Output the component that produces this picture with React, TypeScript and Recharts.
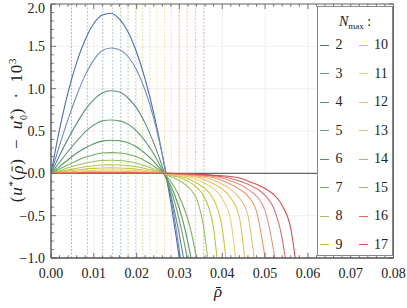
import { LineChart, Line, XAxis, YAxis, CartesianGrid, ReferenceLine } from 'recharts';

// x grid shared by all curves (rho bar)
const XS = [
  0, 0.002, 0.004, 0.006, 0.008, 0.01, 0.012, 0.014, 0.016, 0.018, 0.02, 0.022, 0.024, 0.026,
  0.027, 0.028, 0.029, 0.03, 0.031, 0.032, 0.033, 0.034,
  0.036, 0.038, 0.04, 0.042, 0.044, 0.046, 0.048, 0.05, 0.052, 0.054, 0.056, 0.058,
];

// (u*(rho) - u0*) * 10^3 per N_max; a curve ends one point past -1
const N2 = [0, 0.52, 0.96, 1.31, 1.58, 1.77, 1.87, 1.89, 1.82, 1.67, 1.43, 1.11, 0.71, 0.22, -0.06, -0.35, -0.67, -1.01, -1.37];
const N3 = [0, 0.33, 0.64, 0.92, 1.16, 1.34, 1.45, 1.48, 1.46, 1.38, 1.22, 0.98, 0.65, 0.22, -0.02, -0.28, -0.58, -0.92, -1.3];
const N4 = [0, 0.21, 0.41, 0.59, 0.75, 0.87, 0.95, 0.975, 0.96, 0.89, 0.77, 0.59, 0.36, 0.08, -0.08, -0.26, -0.48, -0.73, -1.02, -1.35];
const N5 = [0, 0.13, 0.26, 0.38, 0.49, 0.57, 0.62, 0.63, 0.62, 0.58, 0.5, 0.38, 0.23, 0.04, -0.07, -0.2, -0.36, -0.56, -0.79, -1.06, -1.36];
const N6 = [0, 0.08, 0.16, 0.24, 0.3, 0.35, 0.38, 0.39, 0.385, 0.36, 0.31, 0.235, 0.14, 0.02, -0.06, -0.15, -0.27, -0.42, -0.6, -0.82, -1.08, -1.38];
const N7 = [0, 0.05, 0.1, 0.15, 0.19, 0.22, 0.24, 0.245, 0.24, 0.225, 0.195, 0.145, 0.085, 0.01, -0.04, -0.1, -0.18, -0.28, -0.4, -0.55, -0.75, -1.0, -1.6];
const N8 = [0, 0.03, 0.065, 0.095, 0.12, 0.14, 0.152, 0.155, 0.152, 0.14, 0.12, 0.09, 0.05, 0.005, -0.02, -0.04, -0.06, -0.085, -0.12, -0.16, -0.215, -0.3, -0.75, -1.8];
const N9 = [0, 0.02, 0.04, 0.06, 0.078, 0.09, 0.098, 0.1, 0.098, 0.09, 0.077, 0.057, 0.03, 0, -0.012, -0.024, -0.036, -0.05, -0.07, -0.095, -0.125, -0.165, -0.3, -0.66, -1.7];
const N10 = [0, 0.013, 0.026, 0.039, 0.05, 0.058, 0.063, 0.065, 0.063, 0.058, 0.049, 0.036, 0.019, 0.002, -0.008, -0.015, -0.024, -0.034, -0.046, -0.062, -0.085, -0.115, -0.18, -0.31, -0.65, -1.6];
const N11 = [0, 0.008, 0.016, 0.024, 0.031, 0.036, 0.039, 0.04, 0.039, 0.036, 0.03, 0.022, 0.011, 0, -0.006, -0.012, -0.019, -0.026, -0.032, -0.04, -0.053, -0.07, -0.12, -0.18, -0.3, -0.56, -1.5];
const N12 = [0, 0.005, 0.01, 0.015, 0.019, 0.022, 0.024, 0.025, 0.024, 0.022, 0.018, 0.013, 0.007, 0, -0.004, -0.008, -0.011, -0.015, -0.02, -0.028, -0.036, -0.045, -0.078, -0.125, -0.185, -0.29, -0.52, -1.4];
const N13 = [0, 0.003, 0.006, 0.009, 0.012, 0.014, 0.0155, 0.016, 0.0155, 0.014, 0.011, 0.008, 0.004, 0, -0.003, -0.006, -0.009, -0.012, -0.017, -0.022, -0.027, -0.032, -0.05, -0.083, -0.13, -0.19, -0.29, -0.5, -1.25];
const N14 = [0, 0.002, 0.004, 0.006, 0.0075, 0.009, 0.0097, 0.01, 0.0097, 0.009, 0.007, 0.005, 0.0025, 0, -0.002, -0.004, -0.006, -0.008, -0.012, -0.016, -0.02, -0.024, -0.035, -0.053, -0.085, -0.13, -0.185, -0.27, -0.45, -1.0, -1.8];
const N15 = [0, 0.001, 0.0025, 0.0035, 0.0045, 0.0055, 0.006, 0.006, 0.006, 0.0055, 0.0045, 0.003, 0.0015, 0, -0.001, -0.002, -0.004, -0.006, -0.008, -0.012, -0.015, -0.018, -0.026, -0.038, -0.058, -0.09, -0.13, -0.19, -0.27, -0.44, -0.91, -1.6];
const N16 = [0, 0.001, 0.0015, 0.002, 0.003, 0.0035, 0.004, 0.004, 0.004, 0.0035, 0.003, 0.002, 0.001, 0, -0.001, -0.002, -0.003, -0.005, -0.006, -0.009, -0.011, -0.014, -0.02, -0.027, -0.04, -0.06, -0.09, -0.13, -0.18, -0.26, -0.41, -0.77, -1.5];
const N17 = [0, 0.0005, 0.001, 0.0015, 0.002, 0.002, 0.0025, 0.0025, 0.0025, 0.002, 0.002, 0.001, 0.0005, 0, -0.0005, -0.001, -0.002, -0.003, -0.004, -0.006, -0.008, -0.01, -0.015, -0.022, -0.03, -0.038, -0.055, -0.09, -0.13, -0.18, -0.25, -0.38, -0.65, -1.4];

const N_MAX = [2, 3, 4, 5, 6, 7, 8, 9, 10, 11, 12, 13, 14, 15, 16, 17];
const SERIES = [N2, N3, N4, N5, N6, N7, N8, N9, N10, N11, N12, N13, N14, N15, N16, N17];

// dashed marker positions, one per N_max
const VLINES = [0.0048, 0.0085, 0.0121, 0.0144, 0.0163, 0.018, 0.0197, 0.0214, 0.0231, 0.0247, 0.0265, 0.0281, 0.0299, 0.0318, 0.0337, 0.0357];

const X_TICKS = [0, 0.01, 0.02, 0.03, 0.04, 0.05, 0.06, 0.07, 0.08];
const Y_TICKS = [-1, -0.5, 0, 0.5, 1, 1.5, 2];
const X_MINOR = Array.from({ length: 41 }, (_, i) => +(i * 0.002).toFixed(3));
const Y_MINOR = Array.from({ length: 31 }, (_, i) => +(-1 + i * 0.1).toFixed(1));

const COLORS = [
  '#4a6cb3', '#6f8bbd', '#5c8a86', '#6c9e7a', '#4f9a58', '#78aa5c', '#9cbf66', '#b6c640',
  '#cec83a', '#e2d27a', '#e6c258', '#ecbd80', '#eb9862', '#e39385', '#dd6c6c', '#d64f4d',
];

const FONT = 'Liberation Serif, Tinos, Times New Roman, DejaVu Serif, serif';
const FRAME = '#666';

const rows = XS.map((x, i) => {
  const r: Record<string, number | null> = { x };
  SERIES.forEach((s, k) => {
    r[`n${N_MAX[k]}`] = i < s.length ? s[i] : null;
  });
  return r;
});

const fmtY = (v: number) => (v < 0 ? '\u2212' : '') + Math.abs(v).toFixed(1);

// rho with a bar over it
function RhoBar() {
  return (
    <span style={{ position: 'relative', display: 'inline-block', fontStyle: 'italic' }}>
      ρ
      <span style={{ position: 'absolute', left: '22%', width: '62%', top: '0.28em', height: 1, background: '#222' }} />
    </span>
  );
}

export default function App() {
  const xt = 0.06; // tick length in y units (~5px)
  const yt = 0.0012; // tick length in x units (~5px)
  return (
    <div style={{ position: 'absolute', left: 0, top: 0, width: 407, height: 308, background: '#fff' }}>
      <LineChart width={407} height={308} data={rows} margin={{ top: 4, right: 13.5, bottom: 20, left: 0 }}>
        <CartesianGrid stroke="#ececec" strokeWidth={0.8} />
        <XAxis
          dataKey="x"
          type="number"
          domain={[0, 0.08]}
          ticks={X_TICKS}
          allowDataOverflow
          axisLine={false}
          tickLine={false}
          tickSize={6}
          tickMargin={4}
          height={30}
          tickFormatter={(v: number) => v.toFixed(2)}
          tick={{ fontFamily: FONT, fontSize: 14, fill: '#222' }}
        />
        <YAxis
          type="number"
          domain={[-1, 2]}
          ticks={Y_TICKS}
          allowDataOverflow
          axisLine={false}
          tickLine={false}
          tickSize={4}
          tickMargin={2}
          width={51}
          tickFormatter={fmtY}
          tick={{ fontFamily: FONT, fontSize: 14, fill: '#222' }}
        />
        {VLINES.map((v, k) => (
          <ReferenceLine key={`v${k}`} x={v} stroke={COLORS[k]} strokeWidth={0.9} strokeDasharray="2 1.5" strokeOpacity={0.55} />
        ))}
        <ReferenceLine y={0} stroke="#666" strokeWidth={1.3} />
        {N_MAX.map((n, k) => (
          <Line
            key={n}
            type="monotone"
            dataKey={`n${n}`}
            stroke={COLORS[k]}
            strokeWidth={1.1}
            dot={false}
            isAnimationActive={false}
          />
        ))}
        {X_MINOR.map((v) => {
          const major = Math.abs(v * 100 - Math.round(v * 100)) < 1e-6;
          const len = major ? xt : xt * 0.55;
          return [
            <ReferenceLine key={`xb${v}`} segment={[{ x: v, y: -1 }, { x: v, y: -1 + len }]} stroke={FRAME} strokeWidth={0.9} />,
            <ReferenceLine key={`xt${v}`} segment={[{ x: v, y: 2 }, { x: v, y: 2 - len }]} stroke={FRAME} strokeWidth={0.9} />,
          ];
        })}
        {Y_MINOR.map((v) => {
          const major = Math.abs(v * 2 - Math.round(v * 2)) < 1e-6;
          const len = major ? yt : yt * 0.55;
          return [
            <ReferenceLine key={`yl${v}`} segment={[{ x: 0, y: v }, { x: len, y: v }]} stroke={FRAME} strokeWidth={0.9} />,
            <ReferenceLine key={`yr${v}`} segment={[{ x: 0.08, y: v }, { x: 0.08 - len, y: v }]} stroke={FRAME} strokeWidth={0.9} />,
          ];
        })}
        <ReferenceLine x={0} stroke="#555" strokeWidth={1.4} />
        <ReferenceLine x={0.08} stroke={FRAME} strokeWidth={1} />
        <ReferenceLine y={-1} stroke="#555" strokeWidth={1.4} />
        <ReferenceLine y={2} stroke={FRAME} strokeWidth={1} />
      </LineChart>

      {/* legend */}
      <div
        style={{
          position: 'absolute', left: 317, top: 6, width: 76, height: 250, boxSizing: 'border-box',
          border: '1px solid #888', background: '#fff', fontFamily: FONT, fontSize: 14, color: '#222',
        }}
      >
        <div style={{ position: 'absolute', top: 6, left: 0, width: '100%', textAlign: 'center', lineHeight: '18px' }}>
          <i>N</i>
          <span style={{ fontSize: 9, position: 'relative', top: 3 }}>max</span> :
        </div>
        {N_MAX.map((n, k) => {
          const col = k < 8 ? 0 : 1;
          const row = k % 8;
          const cy = 38 + row * 28.5;
          const lx = col === 0 ? 2 : 41;
          const tx = col === 0 ? 21 : 63;
          return (
            <div key={n}>
              <div style={{ position: 'absolute', left: lx, top: cy - 0.5, width: 9, height: 1, background: COLORS[k] }} />
              <div style={{ position: 'absolute', left: tx - 15, width: 30, top: cy - 9, lineHeight: '18px', textAlign: 'center' }}>{n}</div>
            </div>
          );
        })}
      </div>

      {/* axis titles */}
      <div
        style={{
          position: 'absolute', left: 15, top: 130, transform: 'translate(-50%, -50%) rotate(-90deg)',
          whiteSpace: 'nowrap', fontFamily: FONT, fontSize: 17, color: '#222', lineHeight: '20px', letterSpacing: 0.8,
        }}
      >
        (<i>u</i>
        <sup style={{ fontSize: 11 }}>*</sup>(<RhoBar />){'\u2002'}−{'\u2002'}<i>u</i>
        <span style={{ display: 'inline-block', verticalAlign: 'middle', fontSize: 10, lineHeight: '10px' }}>
          <span style={{ display: 'block' }}>*</span>
          <span style={{ display: 'block' }}>0</span>
        </span>
        ){'\u2002'}·{'\u2002'}10<sup style={{ fontSize: 11 }}>3</sup>
      </div>
      <div style={{ position: 'absolute', left: 214, top: 282, fontFamily: FONT, fontSize: 17, color: '#222' }}>
        <RhoBar />
      </div>
    </div>
  );
}
